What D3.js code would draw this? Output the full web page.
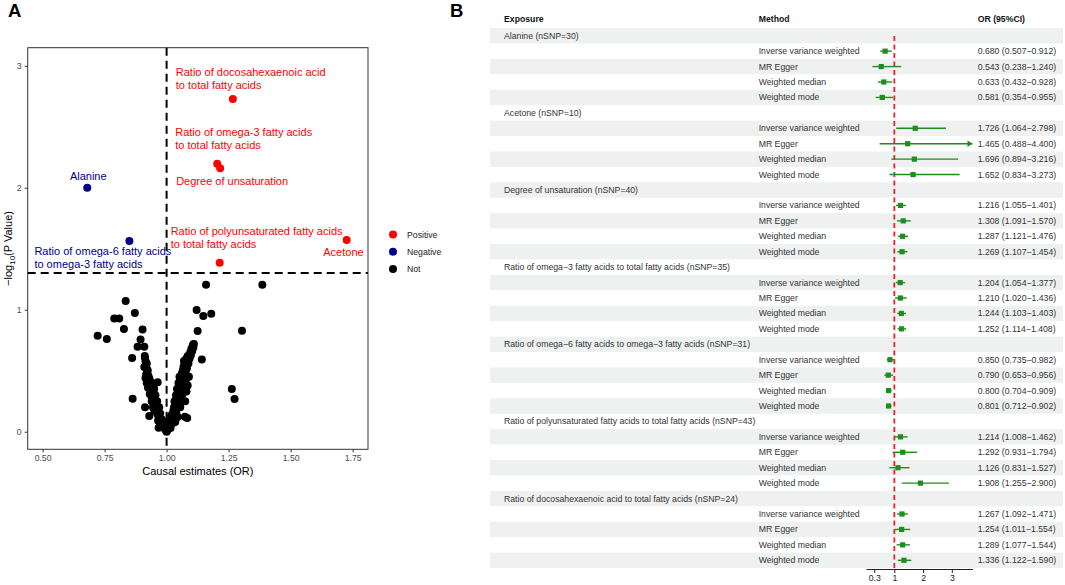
<!DOCTYPE html>
<html>
<head>
<meta charset="utf-8">
<script src="https://d3js.org/d3.v7.min.js"></script>
<style>
  body { margin: 0; background: #fff; }
  svg text { font-family: "Liberation Sans", Arial, sans-serif; }
</style>
</head>
<body>
<script>
// ---------- Panel A data (volcano) ----------
// highlighted exposures: [name, OR, -log10 p, group]
var hiNames = ["Ratio of docosahexaenoic acid to total fatty acids", "Ratio of omega-3 fatty acids to total fatty acids",
               "Degree of unsaturation", "Ratio of polyunsaturated fatty acids to total fatty acids", "Acetone",
               "Alanine", "Ratio of omega-6 fatty acids to omega-3 fatty acids"];
var hiOR    = [1.267, 1.204, 1.216, 1.214, 1.726, 0.680, 0.850];
var hiLogP  = [2.727, 2.197, 2.159, 1.385, 1.571, 2.000, 1.563];
var hiGroup = ["Positive", "Positive", "Positive", "Positive", "Positive", "Negative", "Negative"];
// label text lines, anchor and offset (px) from the point
var hiLines = [["Ratio of docosahexaenoic acid", "to total fatty acids"], ["Ratio of omega-3 fatty acids", "to total fatty acids"],
               ["Degree of unsaturation"], ["Ratio of polyunsaturated fatty acids", "to total fatty acids"], ["Acetone"],
               ["Alanine"], ["Ratio of omega-6 fatty acids", "to omega-3 fatty acids"]];
var hiAnchor = ["start", "start", "start", "start", "end", "middle", "start"];
var hiDx = [-57, -42, -44, -49, 17, 1, -95];
var hiDy = [-27, -32, 13, -32, 12, -12, 10];

// non-significant exposures
var nsOR = [1.159, 1.386, 0.835, 0.872, 0.789, 0.809, 0.828, 0.722, 0.759, 0.903, 0.895, 0.883, 0.910, 0.861, 0.913,
            0.863, 0.913, 0.930, 0.964, 0.968, 1.121, 1.148, 1.180, 1.125, 1.304, 1.142, 1.263, 1.274, 1.083, 1.107, 1.074,
            0.912, 0.915, 0.918, 0.910, 0.922, 0.920, 0.925, 0.915, 0.928, 0.930, 0.920, 0.935, 0.925, 0.938, 0.940, 0.932,
            0.945, 0.942, 0.950, 0.948, 0.955, 0.952, 0.960, 0.958, 0.965, 0.970, 0.968, 0.975, 0.980, 0.985, 0.990, 0.995,
            0.998, 0.940, 0.945, 0.935, 0.950, 0.955, 0.962, 0.970, 1.000,
            0.920, 0.924, 0.928, 0.933, 0.937, 0.943, 0.947, 0.953, 0.957, 0.963, 0.967, 0.972, 0.978, 0.983, 0.988,
            0.918, 0.927, 0.931, 0.939, 0.946, 0.951, 0.959, 0.966, 0.974, 0.981, 0.992,
            1.002, 1.005, 1.010, 1.012, 1.015, 1.020, 1.018, 1.025, 1.028, 1.030, 1.035, 1.032, 1.040, 1.038, 1.045, 1.042,
            1.050, 1.048, 1.055, 1.060, 1.052, 1.062, 1.065, 1.068, 1.072, 1.075, 1.070, 1.080, 1.085, 1.095, 1.100, 1.105,
            1.110, 1.060, 1.065, 1.070, 1.075, 1.080, 1.055, 1.045, 1.035, 1.085, 1.090,
            1.008, 1.014, 1.022, 1.027, 1.033, 1.037, 1.043, 1.047, 1.053, 1.058, 1.063, 1.067, 1.073, 1.078, 1.082,
            1.088, 1.093, 1.098, 1.103, 1.108, 1.016, 1.024, 1.031, 1.039, 1.046, 1.051, 1.057, 1.064, 1.071, 1.077];
var nsLogP = [1.205, 1.205, 1.071, 0.973, 0.929, 0.929, 0.842, 0.787, 0.760, 0.839, 0.757, 0.697, 0.697, 0.604, 0.604,
              0.271, 0.200, 0.129, 0.405, 0.033, 0.998, 0.948, 0.967, 0.825, 0.828, 0.593, 0.350, 0.268, 0.112, 0.716, 0.123,
              0.62, 0.58, 0.55, 0.53, 0.51, 0.48, 0.46, 0.44, 0.42, 0.40, 0.40, 0.38, 0.36, 0.35, 0.33, 0.31,
              0.30, 0.28, 0.26, 0.24, 0.22, 0.20, 0.18, 0.16, 0.14, 0.12, 0.10, 0.08, 0.06, 0.05, 0.03, 0.02,
              0.01, 0.25, 0.20, 0.41, 0.35, 0.30, 0.25, 0.20, 0.00,
              0.56, 0.50, 0.45, 0.39, 0.34, 0.32, 0.27, 0.24, 0.19, 0.16, 0.13, 0.11, 0.07, 0.04, 0.06,
              0.47, 0.37, 0.43, 0.29, 0.36, 0.17, 0.22, 0.09, 0.15, 0.10, 0.04,
              0.01, 0.02, 0.04, 0.06, 0.08, 0.10, 0.13, 0.15, 0.18, 0.20, 0.22, 0.25, 0.27, 0.30, 0.32, 0.35,
              0.37, 0.40, 0.42, 0.44, 0.45, 0.48, 0.50, 0.53, 0.55, 0.57, 0.58, 0.60, 0.62, 0.65, 0.68, 0.70,
              0.72, 0.30, 0.35, 0.40, 0.25, 0.33, 0.20, 0.12, 0.08, 0.38, 0.45,
              0.09, 0.05, 0.14, 0.12, 0.17, 0.24, 0.21, 0.28, 0.31, 0.36, 0.39, 0.43, 0.47, 0.50, 0.52,
              0.56, 0.60, 0.63, 0.66, 0.69, 0.03, 0.07, 0.10, 0.16, 0.26, 0.29, 0.26, 0.31, 0.34, 0.42];

var xTicksA = [0.50, 0.75, 1.00, 1.25, 1.50, 1.75];
var yTicksA = [0, 1, 2, 3];
var legendKeys = ["Positive", "Negative", "Not"];
var legendColors = ["#ff0000", "#00008b", "#000000"];

// ---------- Panel B data (forest) ----------
var exposures = ["Alanine (nSNP=30)", "Acetone (nSNP=10)", "Degree of unsaturation (nSNP=40)",
                 "Ratio of omega\u22123 fatty acids to total fatty acids (nSNP=35)",
                 "Ratio of omega\u22126 fatty acids to omega\u22123 fatty acids (nSNP=31)",
                 "Ratio of polyunsaturated fatty acids to total fatty acids (nSNP=43)",
                 "Ratio of docosahexaenoic acid to total fatty acids (nSNP=24)"];
var methods = ["Inverse variance weighted", "MR Egger", "Weighted median", "Weighted mode"];
var orEst = [[0.680, 0.543, 0.633, 0.581], [1.726, 1.465, 1.696, 1.652], [1.216, 1.308, 1.287, 1.269],
             [1.204, 1.210, 1.244, 1.252], [0.850, 0.790, 0.800, 0.801], [1.214, 1.292, 1.126, 1.908],
             [1.267, 1.254, 1.289, 1.336]];
var orLow = [[0.507, 0.238, 0.432, 0.354], [1.064, 0.488, 0.894, 0.834], [1.055, 1.091, 1.121, 1.107],
             [1.054, 1.020, 1.103, 1.114], [0.735, 0.653, 0.704, 0.712], [1.008, 0.931, 0.831, 1.255],
             [1.092, 1.011, 1.077, 1.122]];
var orHigh = [[0.912, 1.240, 0.928, 0.955], [2.798, 4.400, 3.216, 3.273], [1.401, 1.570, 1.476, 1.454],
              [1.377, 1.436, 1.403, 1.408], [0.982, 0.956, 0.909, 0.902], [1.462, 1.794, 1.527, 2.900],
              [1.471, 1.554, 1.544, 1.590]];
var xTicksB = [0.3, 1, 2, 3];

var svg = d3.select("body").append("svg").attr("width", 1065).attr("height", 585);

// ================= Panel A =================
svg.append("text").attr("x", 8).attr("y", 17).style("font-size", "18.5px").style("font-weight", "bold").text("A");

var xA = d3.scaleLinear().domain([0.44, 1.812]).range([27.7, 368]);
var yA = d3.scaleLinear().domain([-0.144, 3.148]).range([449.3, 47.7]);
var gA = svg.append("g");

gA.append("rect").attr("x", 27.7).attr("y", 47.7).attr("width", 368 - 27.7).attr("height", 449.3 - 47.7)
  .attr("fill", "none").attr("stroke", "#333").attr("stroke-width", 1);

var xAxisA = gA.append("g").attr("transform", "translate(0,449.3)")
  .call(d3.axisBottom(xA).tickValues(xTicksA).tickFormat(d3.format(".2f")).tickSize(3).tickPadding(3));
var yAxisA = gA.append("g").attr("transform", "translate(27.7,0)")
  .call(d3.axisLeft(yA).tickValues(yTicksA).tickFormat(d3.format("d")).tickSize(3).tickPadding(3));
[xAxisA, yAxisA].forEach(function(a) {
  a.select(".domain").remove();
  a.selectAll("line").attr("stroke", "#333");
  a.selectAll("text").attr("fill", "#4d4d4d").style("font-size", "8.7px")
   .style("font-family", "'Liberation Sans', Arial, sans-serif");
});

// threshold lines
gA.append("line").attr("x1", xA(1)).attr("x2", xA(1)).attr("y1", 47.7).attr("y2", 449.3)
  .attr("stroke", "#000").attr("stroke-width", 2).attr("stroke-dasharray", "8,5");
gA.append("line").attr("x1", 27.7).attr("x2", 368).attr("y1", yA(-Math.log10(0.05))).attr("y2", yA(-Math.log10(0.05)))
  .attr("stroke", "#000").attr("stroke-width", 2).attr("stroke-dasharray", "8,5");

// non-significant points
gA.selectAll("circle.ns").data(nsOR).enter().append("circle").attr("class", "ns")
  .attr("cx", function(d) { return xA(d); })
  .attr("cy", function(d, i) { return yA(nsLogP[i]); })
  .attr("r", 4).attr("fill", "#000");

// highlighted points
var hiColor = function(i) { return legendColors[legendKeys.indexOf(hiGroup[i])]; };
gA.selectAll("circle.hi").data(hiOR).enter().append("circle").attr("class", "hi")
  .attr("cx", function(d) { return xA(d); })
  .attr("cy", function(d, i) { return yA(hiLogP[i]); })
  .attr("r", 4).attr("fill", function(d, i) { return hiColor(i); });

// labels
hiOR.forEach(function(d, i) {
  var t = gA.append("text").attr("text-anchor", hiAnchor[i]).attr("fill", hiColor(i)).style("font-size", "11px");
  hiLines[i].forEach(function(line, j) {
    t.append("tspan").attr("x", xA(d) + hiDx[i]).attr("y", yA(hiLogP[i]) + hiDy[i] + j * 13 + 4).text(line);
  });
});

// axis titles
gA.append("text").attr("x", (27.7 + 368) / 2).attr("y", 474.5).attr("text-anchor", "middle")
  .style("font-size", "11px").text("Causal estimates (OR)");
var yt = gA.append("text").attr("transform", "translate(12,248.5) rotate(-90)").attr("text-anchor", "middle")
  .style("font-size", "11px");
yt.append("tspan").text("\u2212log");
yt.append("tspan").attr("dy", 3).style("font-size", "8px").text("10");
yt.append("tspan").attr("dy", -3).text("(P Value)");

// legend
var leg = gA.selectAll("g.leg").data(legendKeys).enter().append("g").attr("class", "leg")
  .attr("transform", function(d, i) { return "translate(393," + (234.5 + i * 17.3) + ")"; });
leg.append("circle").attr("r", 4).attr("fill", function(d, i) { return legendColors[i]; });
leg.append("text").attr("x", 14).attr("y", 3).style("font-size", "8.7px").attr("fill", "#222").text(function(d) { return d; });

// ================= Panel B =================
svg.append("text").attr("x", 450).attr("y", 17).style("font-size", "18.5px").style("font-weight", "bold").text("B");

var rows = [];
exposures.forEach(function(e, g) {
  rows.push({type: "group", label: e});
  methods.forEach(function(m, k) {
    rows.push({type: "method", method: m, est: orEst[g][k], lo: orLow[g][k], hi: orHigh[g][k]});
  });
});

var rowTop = 28, rowBottom = 568;
var yB = d3.scaleBand().domain(d3.range(rows.length)).range([rowTop, rowBottom]);
var xB = d3.scaleLinear().domain([0.014, 3.72]).range([866, 972.5]);
var gB = svg.append("g");
var colExp = 504, colMethod = 758.7, colOR = 977.7;

gB.selectAll("rect.band").data(rows).enter().filter(function(d, i) { return i % 2 === 0; })
  .append("rect").attr("class", "band")
  .attr("x", 490).attr("width", 1063 - 490)
  .attr("y", function(d) { return yB(rows.indexOf(d)); }).attr("height", yB.bandwidth())
  .attr("fill", "#eff1f0");

// header
[["Exposure", colExp], ["Method", colMethod], ["OR (95%CI)", colOR]].forEach(function(h) {
  gB.append("text").attr("x", h[1]).attr("y", 22).style("font-size", "8.7px").style("font-weight", "bold")
    .attr("fill", "#111").text(h[0]);
});

var fmt = d3.format(".3f");
rows.forEach(function(r, i) {
  var cy = yB(i) + yB.bandwidth() / 2 + 3;
  if (r.type === "group") {
    gB.append("text").attr("x", colExp).attr("y", cy).style("font-size", "8.7px").attr("fill", "#333").text(r.label);
  } else {
    gB.append("text").attr("x", colMethod).attr("y", cy).style("font-size", "8.7px").attr("fill", "#333").text(r.method);
    gB.append("text").attr("x", colOR).attr("y", cy).style("font-size", "8.7px").attr("fill", "#333")
      .text(fmt(r.est) + " (" + fmt(r.lo) + "\u2212" + fmt(r.hi) + ")");
  }
});

// reference line
gB.append("line").attr("x1", xB(1)).attr("x2", xB(1)).attr("y1", 36).attr("y2", 569)
  .attr("stroke", "#f0202a").attr("stroke-width", 1.8).attr("stroke-dasharray", "5,3.5");

// CIs
var green = "#1e8c1e";
var xMax = xB.domain()[1];
rows.forEach(function(r, i) {
  if (r.type !== "method") return;
  var cy = yB(i) + yB.bandwidth() / 2;
  var hiV = Math.min(r.hi, xMax);
  gB.append("line").attr("x1", xB(r.lo)).attr("x2", xB(hiV)).attr("y1", cy).attr("y2", cy)
    .attr("stroke", green).attr("stroke-width", 1.4);
  if (r.hi > xMax) {
    var ax = xB(xMax);
    gB.append("path").attr("d", "M" + (ax - 5) + "," + (cy - 3.2) + "L" + ax + "," + cy + "L" + (ax - 5) + "," + (cy + 3.2) + "Z")
      .attr("fill", green);
  }
  gB.append("rect").attr("x", xB(r.est) - 2.6).attr("y", cy - 2.6).attr("width", 5.2).attr("height", 5.2).attr("fill", green);
});

// forest axis
var xAxisB = gB.append("g").attr("transform", "translate(0,569)")
  .call(d3.axisBottom(xB).tickValues(xTicksB).tickFormat(function(d) { return d; }).tickSize(4).tickPadding(2).tickSizeOuter(0));
xAxisB.select(".domain").attr("stroke", "#222");
xAxisB.selectAll("line").attr("stroke", "#222");
xAxisB.selectAll("text").attr("fill", "#222").style("font-size", "8.7px")
  .style("font-family", "'Liberation Sans', Arial, sans-serif");
</script>
</body>
</html>
